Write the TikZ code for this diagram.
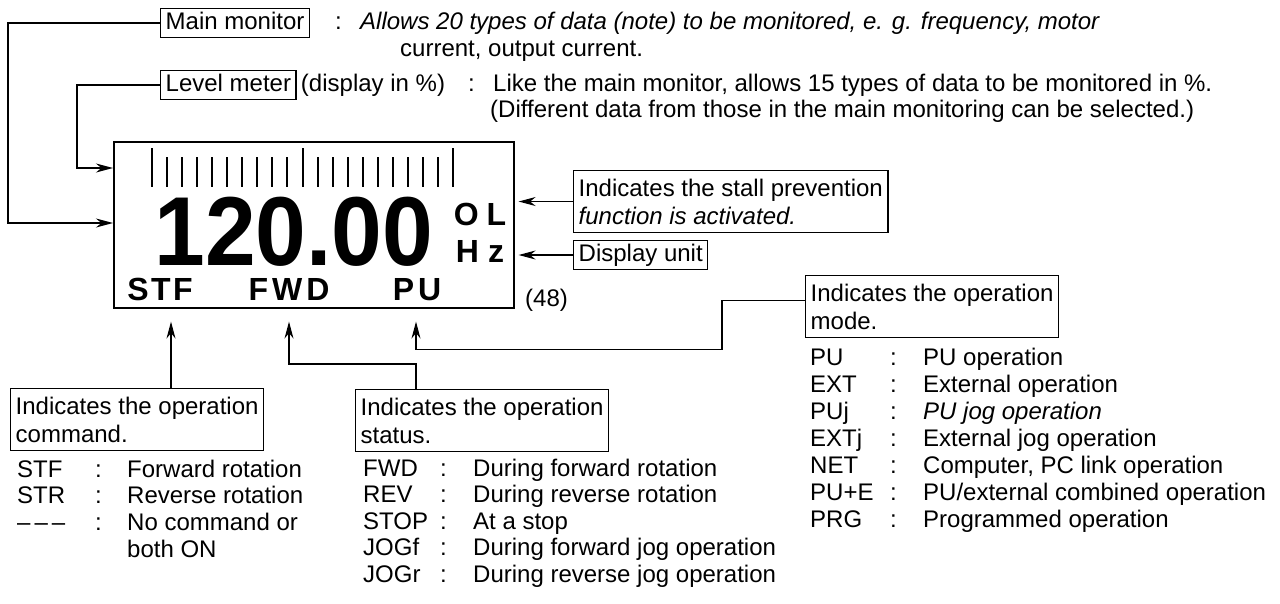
\documentclass[tikz,border=0pt]{standalone}
\usepackage{fontspec}
\setmainfont{Liberation Sans}
\usetikzlibrary{positioning,arrows.meta,calc}

\begin{document}
\begin{tikzpicture}[x=1pt, y=-1pt,
  every node/.style={font=\fontsize{24}{28}\selectfont, inner sep=0pt},
  tag/.style  ={draw, line width=1.4pt, inner xsep=5pt, inner ysep=3.5pt,
                text height=17pt, text depth=5pt, anchor=west},
  note/.style ={draw, line width=1.4pt, align=left, inner xsep=5pt, inner ysep=8pt,
                anchor=north west},
  txt/.style  ={anchor=west, text height=17pt, text depth=5pt},
  lcd/.style  ={font=\fontsize{32}{32}\selectfont\bfseries, anchor=base,
                text height=23pt, text depth=0pt},
  tick/.style ={line width=2pt},
  arr/.style  ={-{Stealth[length=17pt, width=9pt]}, line width=1.4pt}]

\useasboundingbox (0,0) rectangle (1280,603);

%% ── Top: main monitor / level meter ──────────────────────────────
\node[tag] (mainmon) at (160,23) {Main monitor};
\node[txt] (mainsep) at (335,23) {:};
\node[txt] (maintxt) at (360,23) {\textit{Allows 20 types of data (note) to be monitored, e. g. frequency, motor}};
\node[txt] (maintxt2) at (400,50) {current, output current.};

\node[tag] (levmet) at (160,85) {Level meter};
\node[txt, right=4pt of levmet] (levunit) {(display in \%)};
\node[txt] (levsep) at (468,85) {:};
\node[txt] (levtxt) at (493,85) {Like the main monitor, allows 15 types of data to be monitored in \%.};
\node[txt] (levtxt2) at (490,111) {(Different data from those in the main monitoring can be selected.)};

%% ── LCD panel ────────────────────────────────────────────────────
\node[draw, line width=1.6pt, minimum width=400pt, minimum height=166pt,
      anchor=north west] (disp) at (113,141) {};
\foreach \i in {0,...,20}
  \draw[tick] ({152+15.05*\i},157) -- ++(0,30);
\foreach \i in {0,10,20}
  \draw[tick] ({152+15.05*\i},148) -- ++(0,39);
\node[anchor=base, font=\fontsize{98}{98}\selectfont\bfseries,
      text height=70pt, text depth=0pt] (freq) at (294,265)
     {\scalebox{0.93}[1]{120.00}};
\node[lcd] (olmark) at (480,225) {O\hspace{8pt}L};
\node[lcd] (hzmark) at (480,262) {H\hspace{9pt}z};
\node[lcd] (stfmark) at (160,300) {S\kern2.5pt T\kern2.5pt F};
\node[lcd] (fwdmark) at (289,300) {F\kern4pt W\kern4pt D};
\node[lcd] (pumark)  at (417,300) {P\kern4pt U};

%% ── Right-hand notes ─────────────────────────────────────────────
\node[note] (stall) at (573,170) {Indicates the stall prevention\\\textit{function is activated.}};
\node[tag] (unit) at (573,255) {Display unit};
\node[txt] (pageno) at (525,300) {(48)};

\draw[arr, shorten >=4pt] (stall.west) -- (stall.west -| disp.east);
\draw[arr, shorten >=4pt] (unit.west) -- (unit.west -| disp.east);

%% ── Left feed lines into the panel ───────────────────────────────
\draw[arr] (mainmon.west) -- ++(-152,0) |- ($(disp.north west)+(0,82)$);
\draw[arr] (levmet.west) -- ++(-83,0) |- ($(disp.north west)+(0,27)$);

%% ── Bottom notes ─────────────────────────────────────────────────
\node[note] (cmdnote)  at (10,388)  {Indicates the operation\\command.};
\node[note] (stsnote)  at (355,389) {Indicates the operation\\status.};
\node[note] (modenote) at (805,275) {Indicates the operation\\mode.};

\coordinate (modein) at ($(modenote.north west)!0.4!(modenote.south west)$);
\draw[arr] ($(cmdnote.north west)+(161,0)$) -- ($(disp.south west)+(58,13)$);
\draw[arr] ($(stsnote.north west)+(61,0)$) -- ++(0,-25) -| ($(disp.south west)+(176,13)$);
\draw[arr] (modein) -- ++(-83,0) |- ($(disp.south west)+(303,41)$) -- ($(disp.south west)+(303,13)$);

%% ── Operation command list ───────────────────────────────────────
\node[txt] (cmd1) at (17,471) {\makebox[78pt][l]{STF}\makebox[32pt][l]{:}Forward rotation};
\node[txt] (cmd2) at (17,497) {\makebox[78pt][l]{STR}\makebox[32pt][l]{:}Reverse rotation};
\node[txt] (cmd3) at (17,524) {\makebox[78pt][l]{--\kern4pt--\kern4pt--}\makebox[32pt][l]{:}No command or};
\node[txt] (cmd4) at (127,551) {both ON};

%% ── Operation status list ────────────────────────────────────────
\node[txt] (sts1) at (363,470)   {\makebox[77pt][l]{FWD}\makebox[33pt][l]{:}During forward rotation};
\node[txt] (sts2) at (363,496.5) {\makebox[77pt][l]{REV}\makebox[33pt][l]{:}During reverse rotation};
\node[txt] (sts3) at (363,523)   {\makebox[77pt][l]{STOP}\makebox[33pt][l]{:}At a stop};
\node[txt] (sts4) at (363,549.5) {\makebox[77pt][l]{JOGf}\makebox[33pt][l]{:}During forward jog operation};
\node[txt] (sts5) at (363,576)   {\makebox[77pt][l]{JOGr}\makebox[33pt][l]{:}During reverse jog operation};

%% ── Operation mode list ──────────────────────────────────────────
\node[txt] (mod1) at (810,359) {\makebox[80pt][l]{PU}\makebox[33pt][l]{:}PU operation};
\node[txt] (mod2) at (810,386) {\makebox[80pt][l]{EXT}\makebox[33pt][l]{:}External operation};
\node[txt] (mod3) at (810,413) {\makebox[80pt][l]{PUj}\makebox[33pt][l]{:}\textit{PU jog operation}};
\node[txt] (mod4) at (810,440) {\makebox[80pt][l]{EXTj}\makebox[33pt][l]{:}External jog operation};
\node[txt] (mod5) at (810,467) {\makebox[80pt][l]{NET}\makebox[33pt][l]{:}Computer, PC link operation};
\node[txt] (mod6) at (810,494) {\makebox[80pt][l]{PU+E}\makebox[33pt][l]{:}PU/external combined operation};
\node[txt] (mod7) at (810,521) {\makebox[80pt][l]{PRG}\makebox[33pt][l]{:}Programmed operation};
\end{tikzpicture}
\end{document}
